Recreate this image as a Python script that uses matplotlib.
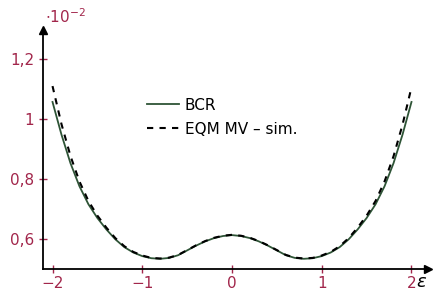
import matplotlib.pyplot as plt

# values (y in units of 1e-2)
eps = [-2.0, -1.9, -1.8, -1.7, -1.6, -1.5, -1.4, -1.3, -1.2, -1.1, -1.0,
       -0.9, -0.8, -0.7, -0.6, -0.5, -0.4, -0.3, -0.2, -0.1, 0.0,
       0.1, 0.2, 0.3, 0.4, 0.5, 0.6, 0.7, 0.8, 0.9, 1.0,
       1.1, 1.2, 1.3, 1.4, 1.5, 1.6, 1.7, 1.8, 1.9, 2.0]
bcr = [1.057, 0.948, 0.853, 0.776, 0.716, 0.670, 0.632, 0.599, 0.573, 0.555, 0.543,
       0.536, 0.534, 0.537, 0.546, 0.562, 0.578, 0.592, 0.603, 0.610, 0.613,
       0.610, 0.603, 0.592, 0.578, 0.562, 0.546, 0.537, 0.534, 0.536, 0.543,
       0.555, 0.573, 0.599, 0.632, 0.670, 0.716, 0.776, 0.853, 0.948, 1.057]
eqm = [1.110, 0.983, 0.877, 0.792, 0.727, 0.678, 0.638, 0.603, 0.576, 0.557, 0.545,
       0.537, 0.535, 0.538, 0.547, 0.563, 0.579, 0.593, 0.604, 0.611, 0.614,
       0.611, 0.604, 0.593, 0.579, 0.563, 0.547, 0.538, 0.535, 0.537, 0.545,
       0.557, 0.576, 0.603, 0.638, 0.678, 0.727, 0.792, 0.876, 0.981, 1.106]

xticks = [-2, -1, 0, 1, 2]
xlabels = ["\u22122", "\u22121", "0", "1", "2"]
yticks = [0.6, 0.8, 1.0, 1.2]
ylabels = ["0,6", "0,8", "1", "1,2"]

red = "#A2264B"
green = "#2E5436"

plt.rcParams['font.family'] = ['DejaVu Sans']
fig = plt.figure(figsize=(4.36, 2.94), dpi=100)
ax = fig.add_axes([43 / 436, 1 - 269 / 294, 385 / 436, 239 / 294])

ax.plot(eps, bcr, color=green, lw=1.3, label="BCR")
ax.plot(eps, eqm, color="black", lw=1.5, ls=(0, (3, 3)), label="EQM MV \u2013 sim.")

ax.set_xlim(-2.106, 2.184)
ax.set_ylim(0.5, 1.297)

for s in ["top", "right"]:
    ax.spines[s].set_visible(False)
for s in ["left", "bottom"]:
    ax.spines[s].set_linewidth(1.3)
ax.plot(1, 0, ">k", ms=6, transform=ax.transAxes, clip_on=False)
ax.plot(0, 1, "^k", ms=6, transform=ax.transAxes, clip_on=False)

ax.set_xticks(xticks)
ax.set_xticklabels(xlabels)
ax.set_yticks(yticks)
ax.set_yticklabels(ylabels)
ax.tick_params(direction="inout", length=6, width=1, color=red,
               labelcolor=red, labelsize=11)
ax.tick_params(axis="x", pad=2)

ax.text(0.005, 1.029, r"$\cdot 10^{-2}$", transform=ax.transAxes, color=red,
        fontsize=11, ha="left", va="baseline")
ax.text(0.984, -0.054, r"$\varepsilon$", transform=ax.transAxes, fontsize=13,
        ha="center", va="center")

ax.legend(loc="upper left", bbox_to_anchor=(0.235, 0.775), frameon=False,
          fontsize=11, handlelength=2.1, handletextpad=0.35, labelspacing=0.6)

fig.savefig("out.png", dpi=100)
